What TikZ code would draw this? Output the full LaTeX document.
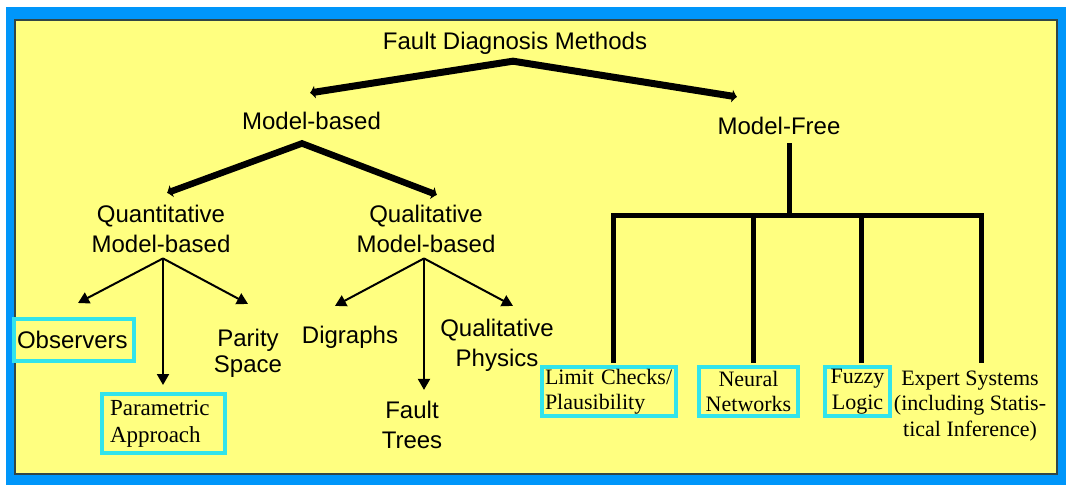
\documentclass[tikz,border=0pt]{standalone}
\usepackage{fontspec}
\setmainfont{Liberation Serif}
\setsansfont{Liberation Sans}
\usetikzlibrary{arrows.meta,calc}
\definecolor{frameblue}{RGB}{0,150,250}
\definecolor{panelyellow}{RGB}{255,255,128}
\definecolor{boxcyan}{RGB}{50,228,235}
\definecolor{edgegray}{RGB}{50,70,70}

\begin{document}
\begin{tikzpicture}[x=1pt,y=-1pt,
  every node/.style={inner sep=0pt},
  sanslbl/.style={font=\sffamily\fontsize{24}{30}\selectfont, align=center, anchor=base},
  serlbl/.style={font=\fontsize{22}{25.5}\selectfont},
  cbox/.style={draw=boxcyan, line width=4pt, inner xsep=3pt, minimum height=49pt},
  heavy/.style={line width=7pt, {Latex[length=5pt,width=14pt]}-{Latex[length=5pt,width=14pt]}},
  subarrow/.style={line width=2pt, -{Triangle[length=11pt,width=12pt]}},
  bus/.style={line width=5pt}]

% frame and panel
\useasboundingbox (0,0) rectangle (1067,486);
\fill[white] (0,0) rectangle (1067,486);
\fill[frameblue] (6,7) rectangle (1066,485);
\filldraw[fill=panelyellow, draw=edgegray, line width=1.5pt] (15,20) rectangle (1057,474);

% plain labels (multi-line labels sit on the baseline of their last line)
\node[sanslbl] (root) at (515,50) {Fault Diagnosis Methods};
\node[sanslbl] (mb) at (311.5,130) {Model-based};
\node[sanslbl] (mf) at (779,135) {Model-Free};
\node[sanslbl] (quant) at (161,252) {Quantitative\\Model-based};
\node[sanslbl] (qual) at (426,252) {Qualitative\\Model-based};
\node[sanslbl, font=\sffamily\fontsize{24}{26}\selectfont] (parity) at (248,372) {Parity\\Space};
\node[sanslbl] (digraphs) at (350,343) {Digraphs};
\node[sanslbl] (qphys) at (497,366) {Qualitative\\Physics};
\node[sanslbl] (ftrees) at (412,448) {Fault\\Trees};

% highlighted leaves
\node[cbox, font=\sffamily\fontsize{24}{30}\selectfont, text width=114pt, align=left, minimum height=42pt] (obs) at (74,340) {Observers};
\node[cbox, font=\fontsize{23}{27}\selectfont, inner xsep=8pt, text width=107pt, align=left, minimum height=59pt] (param) at (163.5,423.5) {Parametric\\Approach};
\node[cbox, serlbl, text width=128pt, align=left] (lc) at (609,391.5) {Limit Checks/\\Plausibility};
\node[cbox, serlbl, text width=93pt, align=center] (nn) at (748.5,391.5) {Neural\\Networks};
\node[cbox, serlbl, text width=59pt, align=center] (fz) at (857.5,391.5) {Fuzzy\\Logic};
\node[serlbl, align=center, anchor=base] (ex) at (970,436) {Expert Systems\\(including Statis-\\tical Inference)};

% main split
\draw[heavy] ($(mb.north)+(-1.5,-19.5)$) -- ($(root.south)+(-2,6)$) -- ($(mf.north)+(-42,-20.5)$);
\draw[heavy, line width=6.5pt] ($(quant.north)+(6,-11.5)$) -- ($(mb.south)+(-9.5,13)$) -- ($(qual.north)+(11,-9.5)$);

% quantitative branch
\coordinate (qj) at ($(quant.south)+(2,6)$);
\draw[subarrow] (qj) -- ($(obs.north)+(4,-14)$);
\draw[subarrow] (qj) -- ($(param.north)+(-0.5,-7)$);
\draw[subarrow] (qj) -- ($(parity.north)+(0,-24.5)$);

% qualitative branch
\coordinate (lj) at ($(qual.south)+(-2,6)$);
\draw[subarrow] (lj) -- ($(digraphs.north)+(-15,-19.5)$);
\draw[subarrow] (lj) -- ($(ftrees.north)+(12,-10.5)$);
\draw[subarrow] (lj) -- ($(qphys.north)+(16,-12.5)$);

% model-free bus
\coordinate (hub) at ($(mf.south)+(10,80)$);
\draw[bus] ($(mf.south)+(10,8)$) -- (hub);
\draw[bus] ($(lc.north)+(4,-2)$) |- (hub) -| ($(ex.north)+(11,-7)$);
\draw[bus] ($(nn.north)+(4.5,-2)$) |- (hub);
\draw[bus] ($(fz.north)+(3.5,-2)$) |- (hub);
\end{tikzpicture}
\end{document}
